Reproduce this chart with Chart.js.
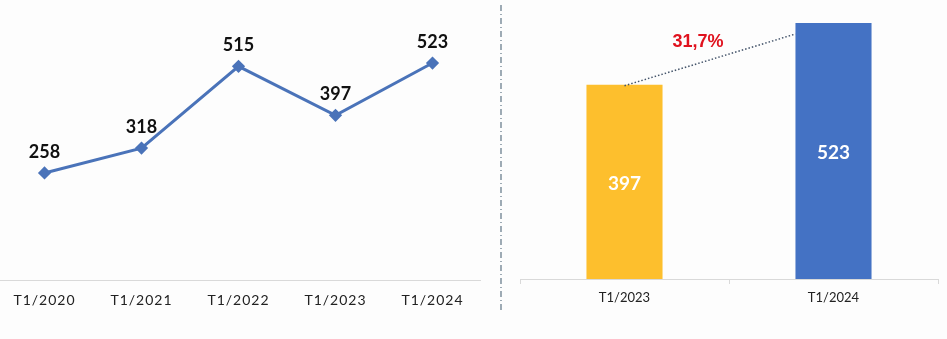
<!DOCTYPE html>
<html lang="vi">
<head>
  <meta charset="UTF-8" />
  <title>T1 so sanh</title>
  <script src="https://cdn.jsdelivr.net/npm/chart.js"></script>
  <style>
    * { box-sizing: border-box; }
    body {
      margin: 0;
      width: 947px;
      height: 339px;
      overflow: hidden;
      background: #fdfdfd;
      position: relative;
      font-family: Lato, sans-serif;
    }
    #lineWrap { position: absolute; left: -4px; top: 0; width: 485px; height: 339px; }
    #barWrap { position: absolute; left: 505px; top: 0; width: 442px; height: 339px; }
    #sep { position: absolute; left: 496px; top: 0; }
  </style>
</head>
<body>
  <div id="lineWrap"><canvas id="lineChart"></canvas></div>
  <canvas id="sep" width="10" height="339"></canvas>
  <div id="barWrap"><canvas id="barChart"></canvas></div>

  <script>
    // left: five years of T1
    const lineLabels = ["T1/2020", "T1/2021", "T1/2022", "T1/2023", "T1/2024"];
    const lineValues = [258, 318, 515, 397, 523];

    // right: last two years
    const barLabels = ["T1/2023", "T1/2024"];
    const barValues = [397, 523];
    const barColors = ["#FDBF2D", "#4472C4"];

    const blue = "#4A73B9";
    const axisGray = "#d9d9d9";

    // dash-dot separator
    (function () {
      const c = document.getElementById("sep").getContext("2d");
      c.strokeStyle = "#5f7585";
      c.lineWidth = 1.2;
      c.setLineDash([6, 3, 1, 3]);
      c.beginPath();
      c.moveTo(5, 5);
      c.lineTo(5, 310);
      c.stroke();
    })();

    const lineLabelPlugin = {
      id: "lineLabels",
      beforeDraw(chart) { chart.ctx.letterSpacing = "1px"; },
      afterDatasetsDraw(chart) {
        const ctx = chart.ctx;
        ctx.save();
        ctx.letterSpacing = "0px";
        ctx.font = "bold 18px Lato";
        ctx.fillStyle = "#111";
        ctx.textAlign = "center";
        ctx.textBaseline = "middle";
        chart.getDatasetMeta(0).data.forEach((pt, i) => {
          ctx.fillText(lineValues[i], pt.x, pt.y - 21);
        });
        ctx.restore();
      }
    };

    new Chart(document.getElementById("lineChart"), {
      type: "line",
      data: {
        labels: lineLabels,
        datasets: [{
          data: lineValues,
          borderColor: blue,
          backgroundColor: blue,
          borderWidth: 3,
          pointStyle: "rectRot",
          pointRadius: 4.5,
          tension: 0
        }]
      },
      options: {
        responsive: true,
        maintainAspectRatio: false,
        animation: false,
        layout: { padding: 0, autoPadding: false },
        plugins: { legend: { display: false }, tooltip: { enabled: false } },
        scales: {
          x: {
            offset: true,
            grid: { display: false },
            border: { display: true, color: axisGray, width: 1 },
            ticks: { color: "#222", padding: 4, font: { family: "Lato", size: 14 } },
            afterFit: s => { s.height = 59; }
          },
          y: { display: false, min: 0, max: 675 }
        }
      },
      plugins: [lineLabelPlugin]
    });

    const barLabelPlugin = {
      id: "barLabels",
      afterDatasetsDraw(chart) {
        const ctx = chart.ctx;
        const bars = chart.getDatasetMeta(0).data;
        ctx.save();
        // values inside bars
        ctx.font = "bold 19px Lato";
        ctx.fillStyle = "#ffffff";
        ctx.textAlign = "center";
        ctx.textBaseline = "middle";
        bars.forEach((b, i) => {
          ctx.fillText(barValues[i], b.x, (b.y + b.base) / 2 + 2);
        });
        // dotted connector
        const a = bars[0], b = bars[1];
        const x1 = a.x, y1 = a.y + 1;
        const x2 = b.x - b.width / 2, y2 = b.y + 11;
        ctx.strokeStyle = "#44546A";
        ctx.lineWidth = 1.5;
        ctx.setLineDash([1.5, 2]);
        ctx.beginPath();
        ctx.moveTo(x1, y1);
        ctx.lineTo(x2, y2);
        ctx.stroke();
        ctx.setLineDash([]);
        // growth
        const pct = ((barValues[1] - barValues[0]) / barValues[0] * 100).toFixed(1).replace(".", ",") + "%";
        ctx.font = "bold 18px 'Liberation Sans', Arial";
        ctx.fillStyle = "#E0121E";
        ctx.fillText(pct, (x1 + x2) / 2 - 12, (y1 + y2) / 2 - 18);
        ctx.restore();
      }
    };

    new Chart(document.getElementById("barChart"), {
      type: "bar",
      data: {
        labels: barLabels,
        datasets: [{
          data: barValues,
          backgroundColor: barColors,
          categoryPercentage: 1,
          barPercentage: 0.364
        }]
      },
      options: {
        responsive: true,
        maintainAspectRatio: false,
        animation: false,
        layout: { padding: { left: 15, right: 9, top: 0, bottom: 0 } },
        plugins: { legend: { display: false }, tooltip: { enabled: false } },
        scales: {
          x: {
            grid: { display: true, drawOnChartArea: false, drawTicks: true, tickLength: 5, color: axisGray },
            border: { display: true, color: axisGray, width: 1 },
            ticks: { color: "#222", padding: 6, font: { family: "Lato", size: 13 } },
            afterFit: s => { s.height = 60; }
          },
          y: { display: false, min: 0, max: 570 }
        }
      },
      plugins: [barLabelPlugin]
    });
  </script>
</body>
</html>
